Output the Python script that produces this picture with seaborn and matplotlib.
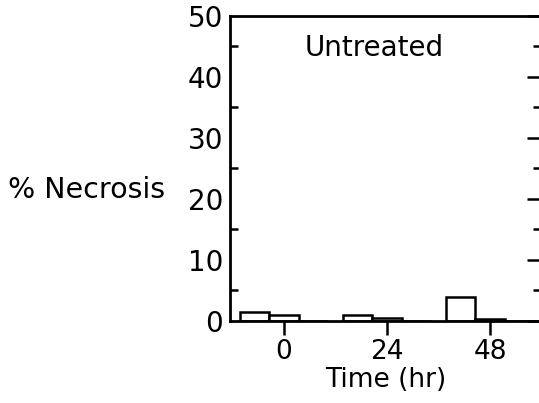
import pandas as pd
import numpy as np
import matplotlib

matplotlib.use('Agg')
import matplotlib.pyplot as plt
from matplotlib.ticker import MultipleLocator
import seaborn as sns

# values
times = ['0', '24', '48']
series = ['a', 'b', 'c']
necrosis_a = [1.5, 1.0, 4.0]
necrosis_b = [1.0, 0.5, 0.4]
necrosis_c = [0.0, 0.0, 0.0]

df = pd.DataFrame({
    'time': times * 3,
    'series': [s for s in series for _ in times],
    'necrosis': necrosis_a + necrosis_b + necrosis_c,
})

sns.set_style('white')
plt.rcParams['font.family'] = ['DejaVu Sans']
plt.rcParams['text.color'] = 'black'
plt.rcParams['axes.labelcolor'] = 'black'
plt.rcParams['xtick.color'] = 'black'
plt.rcParams['ytick.color'] = 'black'

fig = plt.figure(figsize=(5.39, 4.03), dpi=100)
ax = fig.add_axes([0.4267, 0.2035, 0.577, 0.7568])

sns.barplot(data=df, x='time', y='necrosis', hue='series', order=times,
            hue_order=series, width=0.86, palette=['white'] * 3,
            edgecolor='black', linewidth=1.8, legend=False, ax=ax)

fs = 20
ax.set_xlim(-0.524, 2.495)
ax.set_ylim(0, 50)
ax.yaxis.set_major_locator(MultipleLocator(10))
ax.yaxis.set_minor_locator(MultipleLocator(5))
ax.tick_params(axis='y', which='major', direction='in', length=10, width=1.8,
               right=True, labelsize=fs, pad=5)
ax.tick_params(axis='y', which='minor', direction='in', length=6, width=1.8,
               right=True, left=True)
ax.tick_params(axis='x', direction='out', length=10, width=1.8, labelsize=19,
               bottom=True, pad=3)
for s in ax.spines.values():
    s.set_linewidth(2)
    s.set_color('black')

ax.set_xlabel('Time (hr)', fontsize=19)
ax.xaxis.set_label_coords(0.50, -0.15)
ax.set_ylabel('% Necrosis', fontsize=20.5, rotation=0, ha='right', va='center')
ax.yaxis.set_label_coords(-0.209, 0.43)
ax.text(0.88, 44.75, 'Untreated', fontsize=20, ha='center', va='center')

plt.savefig('out.png', dpi=100)
